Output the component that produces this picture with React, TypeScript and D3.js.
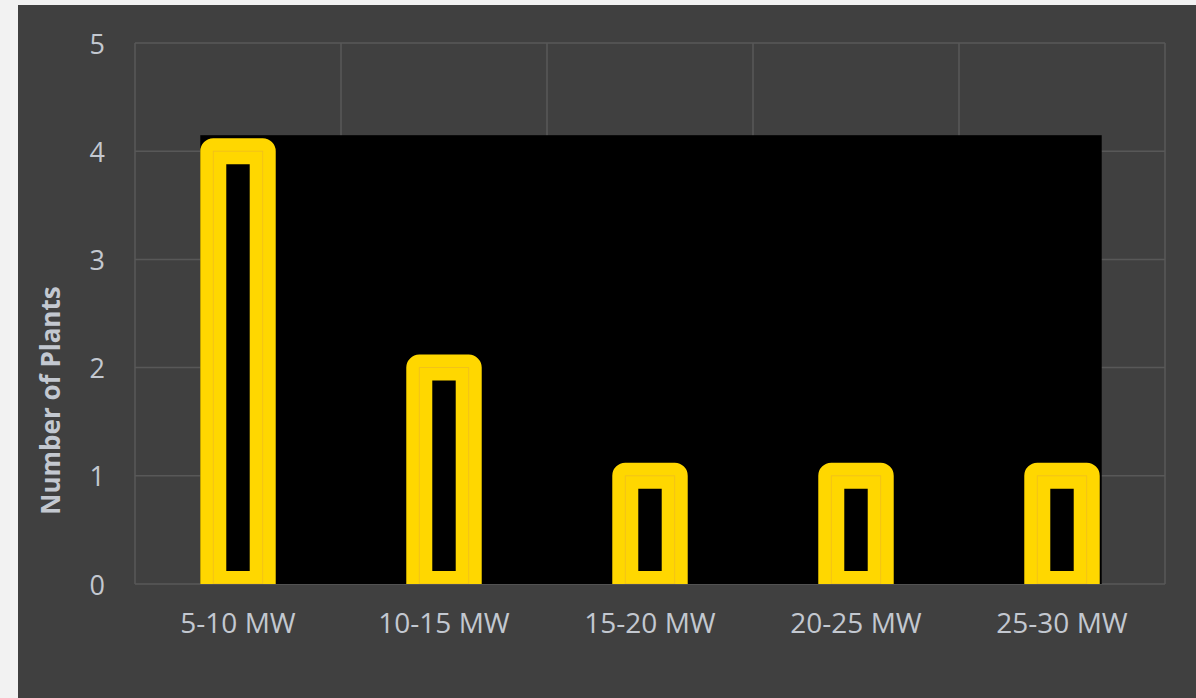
import React from "react";
import * as d3 from "d3";

const categories = ["5-10 MW", "10-15 MW", "15-20 MW", "20-25 MW", "25-30 MW"];
const plantCounts = [4, 2, 1, 1, 1];
const yTicks = [0, 1, 2, 3, 4, 5];
const yTitle = "Number of Plants";

const W = 1196;
const H = 698;
const panel = { x: 18, y: 5 };
const plot = { left: 135, right: 1165, top: 43, bottom: 584 };
const strokeW = 26;

export default function App() {
  const x = d3
    .scaleBand<string>()
    .domain(categories)
    .range([plot.left, plot.right])
    .paddingInner(0)
    .paddingOuter(0);
  const y = d3.scaleLinear().domain([0, 5]).range([plot.bottom, plot.top]);
  const barW = x.bandwidth() * 0.24;
  const cx = (c: string) => (x(c) as number) + x.bandwidth() / 2;

  const maxVal = d3.max(plantCounts) as number;
  const blackLeft = cx(categories[0]) - barW / 2 - strokeW / 2;
  const blackRight = cx(categories[categories.length - 1]) + barW / 2 + strokeW / 2 + 2;
  const blackTop = y(maxVal) - strokeW / 2 - 3;

  const font = "'Open Sans', 'Noto Sans', sans-serif";
  const textColor = "#c3c8d0";

  return (
    <svg width={W} height={H} style={{ position: "absolute", left: 0, top: 0 }}>
      <rect x={0} y={0} width={W} height={H} fill="#f2f2f2" />
      <rect x={panel.x} y={panel.y} width={W - panel.x} height={H - panel.y} fill="#404040" />
      {/* gridlines */}
      {yTicks.map((t) => (
        <line
          key={"h" + t}
          x1={plot.left}
          x2={plot.right}
          y1={y(t)}
          y2={y(t)}
          stroke="#585858"
          strokeWidth={1.5}
        />
      ))}
      {categories.map((c) => (
        <line
          key={"v" + c}
          x1={x(c) as number}
          x2={x(c) as number}
          y1={plot.top}
          y2={plot.bottom}
          stroke="#585858"
          strokeWidth={1.5}
        />
      ))}
      <line x1={plot.right} x2={plot.right} y1={plot.top} y2={plot.bottom} stroke="#585858" strokeWidth={1.5} />
      {/* black backdrop */}
      <rect x={blackLeft} y={blackTop} width={blackRight - blackLeft} height={plot.bottom - blackTop} fill="#000" />
      <defs>
        <clipPath id="plotClip">
          <rect x={plot.left} y={0} width={plot.right - plot.left} height={plot.bottom} />
        </clipPath>
      </defs>
      <g clipPath="url(#plotClip)">
        {categories.map((c, i) => {
          const v = plantCounts[i];
          const bx = cx(c) - barW / 2;
          const by = y(v);
          const bh = y(0) - y(v);
          return (
            <g key={c}>
              <rect
                x={bx}
                y={by}
                width={barW}
                height={bh}
                fill="#000"
                stroke="#FFD700"
                strokeWidth={strokeW}
                strokeLinejoin="round"
              />
              <rect x={bx} y={by} width={barW} height={bh} fill="none" stroke="#eab42a" strokeWidth={0.8} opacity={0.7} />
            </g>
          );
        })}
      </g>
      {/* y tick labels */}
      {yTicks.map((t) => (
        <text
          key={"yl" + t}
          x={105}
          y={y(t)}
          textAnchor="end"
          dominantBaseline="central"
          fill={textColor}
          fontFamily={font}
          fontSize={27}
        >
          {t}
        </text>
      ))}
      {/* x labels */}
      {categories.map((c) => (
        <text
          key={"xl" + c}
          x={cx(c)}
          y={622}
          textAnchor="middle"
          dominantBaseline="central"
          fill={textColor}
          fontFamily={font}
          fontSize={28}
        >
          {c}
        </text>
      ))}
      <text
        transform={`translate(50, ${(plot.top + plot.bottom) / 2 + 87}) rotate(-90)`}
        textAnchor="middle"
        dominantBaseline="central"
        fill={textColor}
        fontFamily={font}
        fontSize={26}
        fontWeight="bold"
      >
        {yTitle}
      </text>
    </svg>
  );
}
